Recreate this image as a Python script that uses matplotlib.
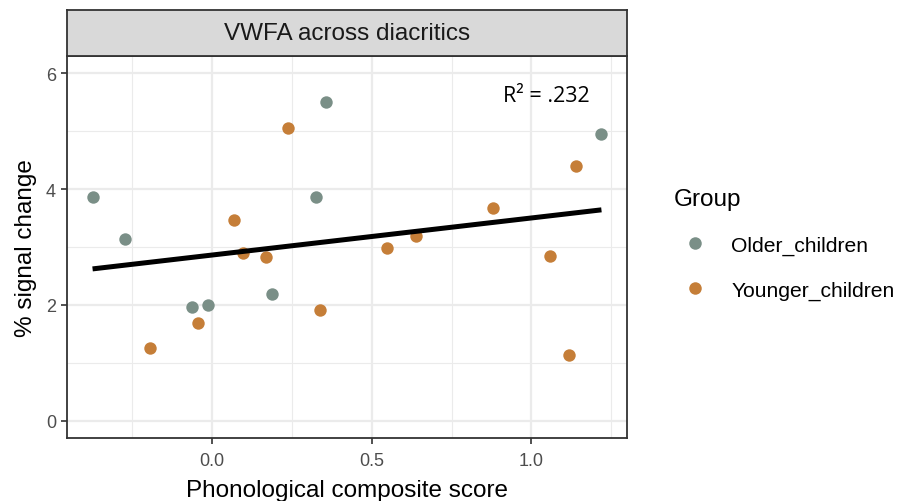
import numpy as np
import matplotlib
matplotlib.use("Agg")
import matplotlib.pyplot as plt
from matplotlib.lines import Line2D

# data
older_x = [-0.374, -0.272, -0.062, -0.012, 0.188, 0.327, 0.358, 1.219]
older_y = [3.86, 3.14, 1.97, 2.00, 2.19, 3.87, 5.51, 4.96]
younger_x = [-0.193, -0.043, 0.068, 0.097, 0.169, 0.238, 0.338, 0.548, 0.638, 0.878, 1.058, 1.119, 1.138]
younger_y = [1.26, 1.69, 3.47, 2.90, 2.83, 5.05, 1.91, 2.98, 3.19, 3.68, 2.84, 1.14, 4.40]
groups = ["Older_children", "Younger_children"]
colors = ["#7a8f87", "#c57e38"]
r2_label = "R\u00b2 = .232"

plt.rcParams['font.family'] = ['Liberation Sans', 'DejaVu Sans']

fig = plt.figure(figsize=(9.01, 5.02), dpi=100)
W, H = 901, 502
left, right, top, bottom = 67, 627, 57, 439
ax = fig.add_axes([left / W, 1 - bottom / H, (right - left) / W, (bottom - top) / H])

# grid like theme_bw
for v in [-0.25, 0.25, 0.75, 1.25]:
    ax.axvline(v, color="#ebebeb", lw=0.8, zorder=0)
for v in [0.0, 0.5, 1.0]:
    ax.axvline(v, color="#ebebeb", lw=1.6, zorder=0)
for v in [1, 3, 5]:
    ax.axhline(v, color="#ebebeb", lw=0.8, zorder=0)
for v in [0, 2, 4, 6]:
    ax.axhline(v, color="#ebebeb", lw=1.6, zorder=0)

ax.scatter(older_x, older_y, s=80, color=colors[0], lw=0, zorder=3)
ax.scatter(younger_x, younger_y, s=80, color=colors[1], lw=0, zorder=3)

# linear fit over all points
all_x = np.array(older_x + younger_x)
all_y = np.array(older_y + younger_y)
slope, icpt = np.polyfit(all_x, all_y, 1)
xs = np.array([all_x.min(), all_x.max()])
ax.plot(xs, slope * xs + icpt, color="black", lw=3.6, zorder=4, solid_capstyle="butt")

ax.text(1.047, 5.62, r2_label, fontsize=15.5, family=["Open Sans", "DejaVu Sans"],
        ha="center", va="center")

ax.set_xlim(-0.454, 1.299)
ax.set_ylim(-0.3, 6.3)
ax.set_xticks([0.0, 0.5, 1.0])
ax.set_xticklabels(["0.0", "0.5", "1.0"])
ax.set_yticks([0, 2, 4, 6])
ax.tick_params(axis="both", colors="#333333", labelcolor="#4d4d4d", labelsize=13,
               length=4, width=1.2)
ax.tick_params(axis="x", pad=6)
ax.tick_params(axis="y", pad=4)
for s in ax.spines.values():
    s.set_color("#333333")
    s.set_linewidth(1.3)

ax.set_xlabel("Phonological composite score", fontsize=17.5, labelpad=7.5)
ax.set_ylabel("% signal change", fontsize=17.5, labelpad=6.5)

# facet strip
sax = fig.add_axes([left / W, 1 - top / H, (right - left) / W, 46 / H])
sax.set_facecolor("#d9d9d9")
sax.set_xticks([])
sax.set_yticks([])
for s in sax.spines.values():
    s.set_color("#333333")
    s.set_linewidth(1.3)
sax.text(0.5, 0.5, "VWFA across diacritics", ha="center", va="center",
         fontsize=17.5, color="#1a1a1a", transform=sax.transAxes)

# legend
handles = [Line2D([0], [0], marker="o", color="w", markerfacecolor=c, markersize=9,
                  markeredgewidth=0, label=g) for g, c in zip(groups, colors)]
fig.legend(handles=handles, title="Group", loc="center left",
           bbox_to_anchor=(655 / W, 1 - 245 / H), frameon=False, fontsize=15.2,
           title_fontsize=17.5, labelspacing=1.2, handletextpad=0.72, alignment="left")

fig.savefig("out.png", dpi=100)
